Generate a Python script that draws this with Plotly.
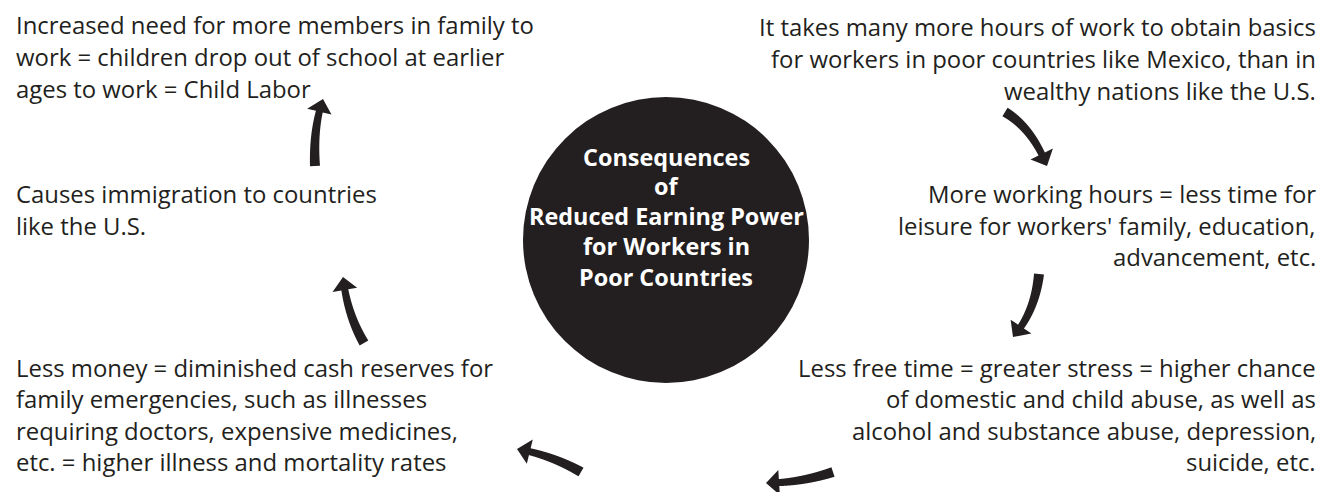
import numpy as np
import plotly.graph_objects as go

# ---- Text content (data) ----
center_title = ["Consequences", "of", "Reduced Earning Power", "for Workers in", "Poor Countries"]
top_left = ["Increased need for more members in family to",
            "work = children drop out of school at earlier",
            "ages to work = Child Labor"]
top_right = ["It takes many more hours of work to obtain basics",
             "for workers in poor countries like Mexico, than in",
             "wealthy nations like the U.S."]
mid_right = ["More working hours = less time for",
             "leisure for workers' family, education,",
             "advancement, etc."]
bottom_right = ["Less free time = greater stress = higher chance",
                "of domestic and child abuse, as well as",
                "alcohol and substance abuse, depression,",
                "suicide, etc."]
bottom_left = ["Less money = diminished cash reserves for",
               "family emergencies, such as illnesses",
               "requiring doctors, expensive medicines,",
               "etc. = higher illness and mortality rates"]
mid_left = ["Causes immigration to countries",
            "like the U.S."]

# ---- Layout / style ----
W, H = 1330, 492
OFF = 8  # page body margin compensation
INK = "#231f20"
FONT = "Open Sans"
FS = 23.9

blocks = [
    (top_left, 15, [24, 56, 88], "left"),
    (top_right, 1317, [26, 58, 90], "right"),
    (mid_right, 1317, [193, 225, 256], "right"),
    (bottom_right, 1317, [367, 398, 430, 461], "right"),
    (bottom_left, 15, [367, 398, 430, 461], "left"),
    (mid_left, 15, [193, 225], "left"),
]

fig = go.Figure()
fig.add_trace(go.Scatter(x=[OFF, W], y=[OFF, H], mode="markers",
                         marker=dict(opacity=0), hoverinfo="skip", showlegend=False))

annotations = []
for lines, x, ys, side in blocks:
    for line, y in zip(lines, ys):
        annotations.append(dict(x=x, y=y, xref="x", yref="y", text=line, showarrow=False,
                                xanchor=side, yanchor="middle", align=side, borderpad=0,
                                font=dict(family=FONT, size=FS, color=INK)))

cx, cy, r = 666, 240, 143
title_ys = [157, 186, 216, 246, 277]
for line, y in zip(center_title, title_ys):
    annotations.append(dict(x=cx, y=y, xref="x", yref="y", text="<b>" + line + "</b>",
                            showarrow=False, xanchor="center", yanchor="middle",
                            font=dict(family=FONT, size=23.4, color="white")))

shapes = [dict(type="circle", xref="x", yref="y", x0=cx - r, x1=cx + r, y0=cy - r, y1=cy + r,
               fillcolor=INK, line=dict(width=0), layer="below")]


def arrow_path(tail, ctrl, tip, w0=10, w1=7, head_len=13, head_w=25):
    P0, P1, P2 = map(np.array, (tail, ctrl, tip))
    ts = np.linspace(0, 1, 400)
    pts = np.array([(1 - t) ** 2 * P0 + 2 * (1 - t) * t * P1 + t ** 2 * P2 for t in ts])
    d = np.linalg.norm(pts - P2, axis=1)
    idx = np.where(d >= head_len)[0][-1]
    pts = pts[: idx + 1]
    tang = np.gradient(pts, axis=0)
    tang /= np.linalg.norm(tang, axis=1)[:, None]
    nrm = np.stack([-tang[:, 1], tang[:, 0]], axis=1)
    widths = np.linspace(w0, w1, len(pts))[:, None] / 2
    left = pts + nrm * widths
    right = pts - nrm * widths
    base = pts[-1]
    bn = nrm[-1]
    b1 = base + bn * head_w / 2
    b2 = base - bn * head_w / 2
    poly = list(left) + [b1, P2, b2] + list(right[::-1])
    return "M " + " L ".join(f"{p[0]:.2f},{p[1]:.2f}" for p in poly) + " Z"


arrows = [
    ((1005, 112), (1032, 128), (1047, 166)),
    ((1039, 274), (1035, 312), (1013, 337)),
    ((833, 472), (800, 483), (766, 483)),
    ((581, 472), (551, 455), (517, 449)),
    ((364, 343), (347, 314), (343, 277)),
    ((315, 166), (313, 128), (323, 99)),
]
for tail, ctrl, tip in arrows:
    shapes.append(dict(type="path", xref="x", yref="y", path=arrow_path(tail, ctrl, tip),
                       fillcolor=INK, line=dict(width=0)))

fig.update_layout(
    width=W - OFF, height=H - OFF, autosize=False,
    margin=dict(l=0, r=0, t=0, b=0),
    paper_bgcolor="white", plot_bgcolor="white",
    xaxis=dict(range=[OFF, W], visible=False, fixedrange=True),
    yaxis=dict(range=[H, OFF], visible=False, fixedrange=True),
    annotations=annotations, shapes=shapes, showlegend=False,
)
fig.write_html("out.html", config={"displayModeBar": False})
